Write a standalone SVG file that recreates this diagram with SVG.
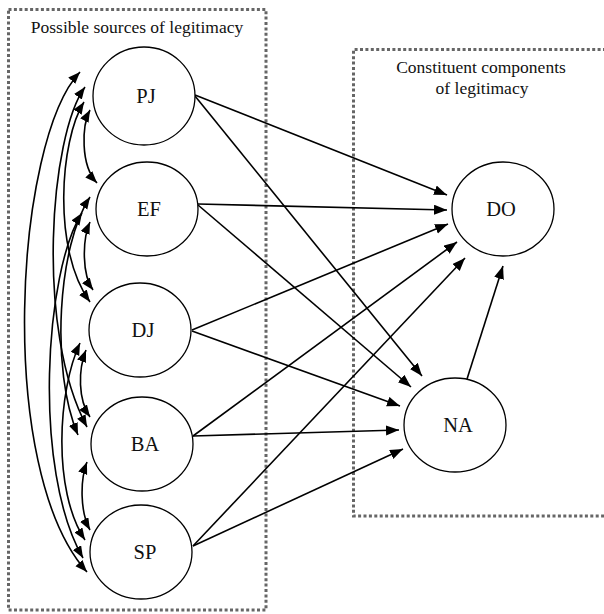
<svg xmlns="http://www.w3.org/2000/svg" width="604" height="614" viewBox="0 0 604 614">
<style>
.box{fill:none;stroke:#666;stroke-width:3;stroke-dasharray:3 2.4}
.node{fill:#fff;stroke:#000;stroke-width:1.3}
.lbl{font-family:"Liberation Serif","Times New Roman",serif;font-size:20.5px;fill:#111;text-anchor:middle}
.ttl{font-family:"Liberation Serif","Times New Roman",serif;font-size:17.5px;fill:#111;text-anchor:middle}
.ln{fill:none;stroke:#000;stroke-width:1.6}
.st{marker-end:url(#ah)}
.cv{marker-start:url(#ah2);marker-end:url(#ah2)}
</style>
<defs>
<marker id="ah" markerUnits="userSpaceOnUse" markerWidth="15" markerHeight="12" refX="13" refY="5" orient="auto"><path d="M0,0 L13,5 L0,10 z" fill="#000"/></marker>
<marker id="ah2" markerUnits="userSpaceOnUse" markerWidth="14" markerHeight="11" refX="12" refY="4.75" orient="auto-start-reverse"><path d="M0,0 L12,4.75 L0,9.5 z" fill="#000"/></marker>
</defs>
<rect class="box" x="8.5" y="9.5" width="257.5" height="600.5"/>
<path class="box" d="M606,49.5 H353.5 V516 H606"/>
<text class="ttl" x="137" y="33">Possible sources of legitimacy</text>
<text class="ttl" x="481" y="73">Constituent components</text>
<text class="ttl" x="482" y="94">of legitimacy</text>
<g id="connectors">
<path class="ln st" d="M195,95 L447,195"/>
<path class="ln st" d="M195,96 L422,376"/>
<path class="ln st" d="M198,204 L447,210"/>
<path class="ln st" d="M198,205 L411,387"/>
<path class="ln st" d="M192,330 L448,224"/>
<path class="ln st" d="M192,331 L400,406"/>
<path class="ln st" d="M193,436 L457,242"/>
<path class="ln st" d="M193,436 L399,430"/>
<path class="ln st" d="M193,546 L465,258"/>
<path class="ln st" d="M193,546 L403,449"/>
<path class="ln st" d="M467,379 L503,266"/>
<path class="ln cv" d="M90,110 C82,125 80,165 97,183"/>
<path class="ln cv" d="M90,222 C82,240 82,275 93,290"/>
<path class="ln cv" d="M86,350 C78,370 78,400 90,417"/>
<path class="ln cv" d="M87,462 C80,480 80,512 90,530"/>
<path class="ln cv" d="M84,102 C60,140 52,250 90,302"/>
<path class="ln cv" d="M85,87 C50,135 35,330 87,427"/>
<path class="ln cv" d="M80,72 C15,140 -5,470 87,572"/>
<path class="ln cv" d="M90,197 C58,245 50,370 78,435"/>
<path class="ln cv" d="M82,213 C45,270 32,470 83,558"/>
<path class="ln cv" d="M80,343 C58,390 52,490 85,540"/>
</g>
<g id="PJ"><ellipse class="node" cx="144" cy="96" rx="51" ry="49"/><text class="lbl" x="146" y="103">PJ</text></g>
<g id="EF"><ellipse class="node" cx="147" cy="209" rx="51" ry="47"/><text class="lbl" x="149" y="216">EF</text></g>
<g id="DJ"><ellipse class="node" cx="140" cy="330" rx="51" ry="47"/><text class="lbl" x="143" y="337">DJ</text></g>
<g id="BA"><ellipse class="node" cx="142" cy="444" rx="51" ry="47"/><text class="lbl" x="145" y="451">BA</text></g>
<g id="SP"><ellipse class="node" cx="141" cy="552" rx="51" ry="47"/><text class="lbl" x="145" y="559">SP</text></g>
<g id="DO"><ellipse class="node" cx="503" cy="209" rx="51" ry="47"/><text class="lbl" x="501" y="216">DO</text></g>
<g id="NA"><ellipse class="node" cx="455" cy="425" rx="51" ry="47"/><text class="lbl" x="458" y="432">NA</text></g>
</svg>
